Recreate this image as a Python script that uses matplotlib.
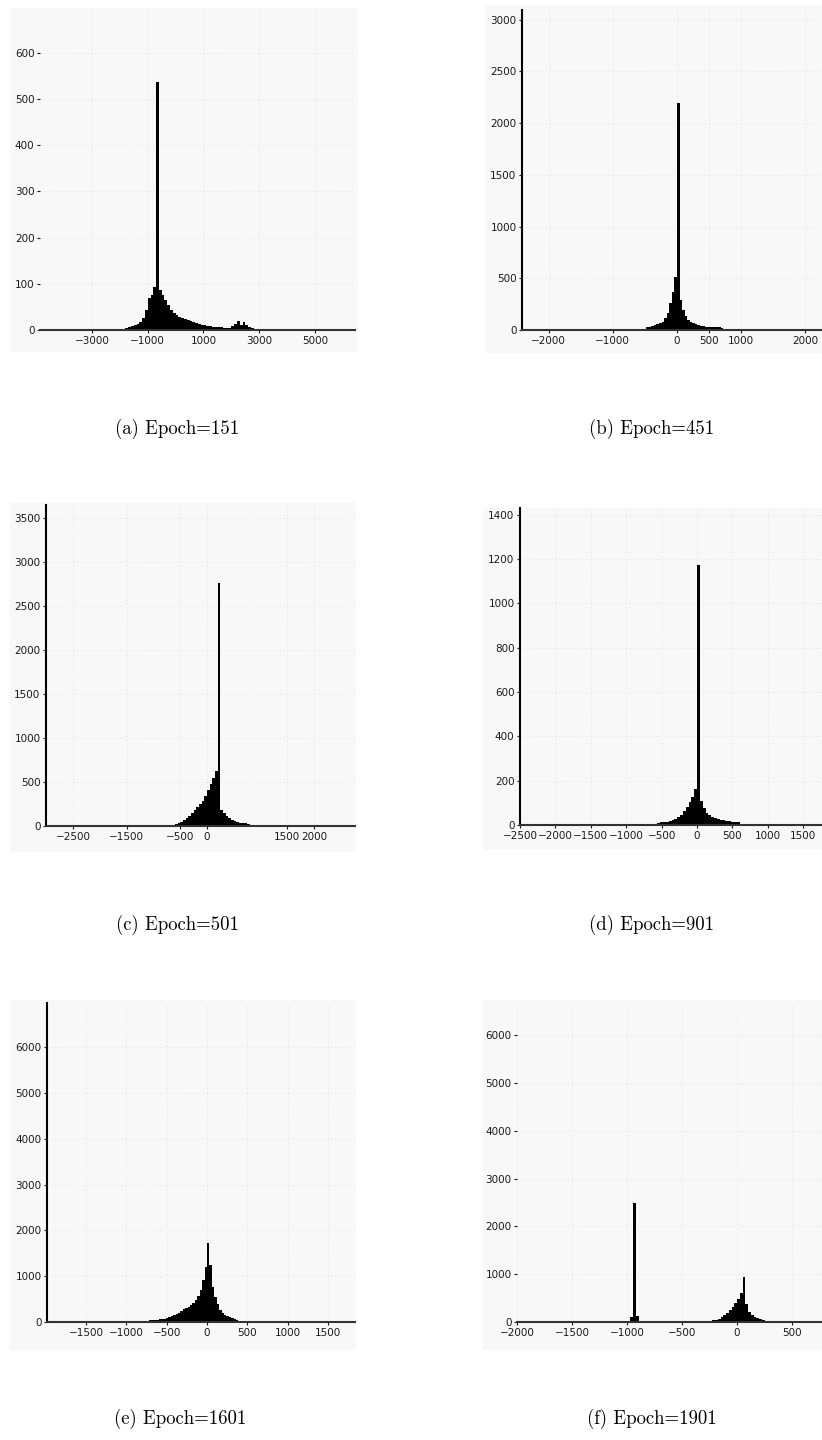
import numpy as np
import matplotlib
matplotlib.use("Agg")
import matplotlib.pyplot as plt
from matplotlib.patches import Rectangle

# ---------------- data ----------------
captions = ["(a) Epoch=151", "(b) Epoch=451", "(c) Epoch=501",
            "(d) Epoch=901", "(e) Epoch=1601", "(f) Epoch=1901"]

a_start, a_width = -1900, 100
a_counts = [2, 4, 6, 9, 11, 13, 17, 26, 43, 69, 76, 93, 537, 87, 76, 65, 54, 43, 37, 32,
            28, 26, 24, 22, 19, 17, 15, 13, 11, 11, 9, 9, 6, 6, 6, 6, 4, 4, 4, 9,
            13, 19, 11, 17, 11, 6, 4]
a_xticks = [-3000, -1000, 1000, 3000, 5000]
a_yticks = [0, 100, 200, 300, 400, 500, 600]

b_start, b_width = -480, 40
b_counts = [29, 29, 39, 48, 58, 68, 77, 116, 164, 261, 367, 512, 2195, 290, 193, 135, 97,
            77, 68, 58, 48, 39, 39, 29, 29, 29, 29, 29, 29, 19]
b_xticks = [-2000, -1000, 0, 500, 1000, 2000]
b_yticks = [0, 500, 1000, 1500, 2000, 2500, 3000]

c_start, c_width = -650, 50
c_counts = [11, 23, 34, 45, 68, 91, 114, 148, 182, 216, 250, 284, 341, 409, 477, 545, 625,
            2761, 182, 148, 114, 91, 68, 57, 45, 34, 34, 34, 23]
c_xticks = [-2500, -1500, -500, 0, 1500, 2000]
c_yticks = [0, 500, 1000, 1500, 2000, 2500, 3000, 3500]

d_start, d_width = -560, 40
d_counts = [9, 14, 14, 14, 18, 23, 27, 36, 45, 63, 81, 104, 126, 163, 1174, 108, 77, 54,
            45, 36, 32, 27, 23, 23, 18, 18, 14, 14, 14]
d_xticks = [-2500, -2000, -1500, -1000, -500, 0, 500, 1000, 1500]
d_yticks = [0, 200, 400, 600, 800, 1000, 1200, 1400]

e_start, e_width = -750, 30
e_counts = [22, 44, 44, 44, 44, 65, 65, 65, 87, 109, 131, 153, 175, 196, 240, 284, 306,
            327, 371, 415, 480, 568, 699, 917, 1201, 1725, 1244, 764, 546, 393, 262,
            196, 153, 131, 109, 87, 65, 44]
e_xticks = [-1500, -1000, -500, 0, 500, 1000, 1500]
e_yticks = [0, 1000, 2000, 3000, 4000, 5000, 6000]

f_spike_start, f_spike_width = -970, 25
f_spike_counts = [100, 2490, 120]
f_start, f_width = -275, 25
f_counts = [21, 21, 42, 42, 63, 105, 146, 188, 251, 314, 397, 481, 607, 941, 377, 209,
            146, 105, 84, 63, 42]
f_xticks = [-2000, -1500, -1000, -500, 0, 500]
f_yticks = [0, 1000, 2000, 3000, 4000, 5000, 6000]

# ---------------- layout ----------------
W, H = 822, 1440
fig = plt.figure(figsize=(W / 100, H / 100), dpi=100)
fig.patch.set_facecolor("white")


def rect(x0, y0, x1, y1):
    return [x0 / W, 1 - y1 / H, (x1 - x0) / W, (y1 - y0) / H]


panels = [
    dict(ax=(40, 10, 355, 330), bg=(10, 8, 358, 352), xlim=(-4865, 6435), ylim=(0, 693),
         hists=[(a_start, a_width, a_counts)], xt=a_xticks, yt=a_yticks, left=False,
         cap=(177, 434)),
    dict(ax=(522, 10, 830, 330), bg=(485, 5, 822, 353), xlim=(-2415, 2385), ylim=(0, 3094),
         hists=[(b_start, b_width, b_counts)], xt=b_xticks, yt=b_yticks, left=True,
         cap=(652, 434)),
    dict(ax=(46, 505, 355, 826), bg=(10, 502, 356, 852), xlim=(-3009, 2766), ylim=(0, 3647),
         hists=[(c_start, c_width, c_counts)], xt=c_xticks, yt=c_yticks, left=True,
         cap=(177, 930)),
    dict(ax=(520, 508, 830, 825), bg=(483, 508, 822, 850), xlim=(-2500, 1878), ylim=(0, 1431),
         hists=[(d_start, d_width, d_counts)], xt=d_xticks, yt=d_yticks, left=True,
         cap=(652, 930)),
    dict(ax=(47, 1003, 355, 1322), bg=(10, 1000, 356, 1350), xlim=(-1983, 1834), ylim=(0, 6964),
         hists=[(e_start, e_width, e_counts)], xt=e_xticks, yt=e_yticks, left=True,
         cap=(180, 1424)),
    dict(ax=(517, 1003, 830, 1322), bg=(483, 1000, 822, 1350), xlim=(-2000, 845), ylim=(0, 6673),
         hists=[(f_spike_start, f_spike_width, f_spike_counts), (f_start, f_width, f_counts)],
         xt=f_xticks, yt=f_yticks, left=False, cap=(652, 1424)),
]

for p, cap in zip(panels, captions):
    bx0, by0, bx1, by1 = p["bg"]
    fig.patches.append(Rectangle((bx0 / W, 1 - by1 / H), (bx1 - bx0) / W, (by1 - by0) / H,
                                 transform=fig.transFigure, facecolor="#f8f8fa",
                                 edgecolor="none", zorder=-5))
    ax = fig.add_axes(rect(*p["ax"]))
    ax.set_zorder(2)
    ax.patch.set_visible(False)
    for start, width, counts in p["hists"]:
        edges = start + width * np.arange(len(counts) + 1)
        ax.stairs(counts, edges, fill=True, color="black", linewidth=0)
    ax.set_xlim(*p["xlim"])
    ax.set_ylim(*p["ylim"])
    ax.set_xticks(p["xt"])
    ax.set_yticks(p["yt"])
    ax.tick_params(labelsize=7.5, length=2, width=0.8, pad=2, colors="#1a1a1a")
    ax.grid(True, color="#eadbe6", linestyle=(0, (1, 3)), linewidth=0.7)
    ax.set_axisbelow(True)
    for s in ["top", "right"]:
        ax.spines[s].set_visible(False)
    ax.spines["bottom"].set_color("#333333")
    ax.spines["bottom"].set_linewidth(1.5)
    if p["left"]:
        ax.spines["left"].set_color("black")
        ax.spines["left"].set_linewidth(1.5)
    else:
        ax.spines["left"].set_visible(False)
    cx, cy = p["cap"]
    fig.text(cx / W, 1 - cy / H, cap, ha="center", va="baseline",
             fontsize=13.5, family="cmr10")

fig.savefig("out.png", dpi=100, facecolor="white")
